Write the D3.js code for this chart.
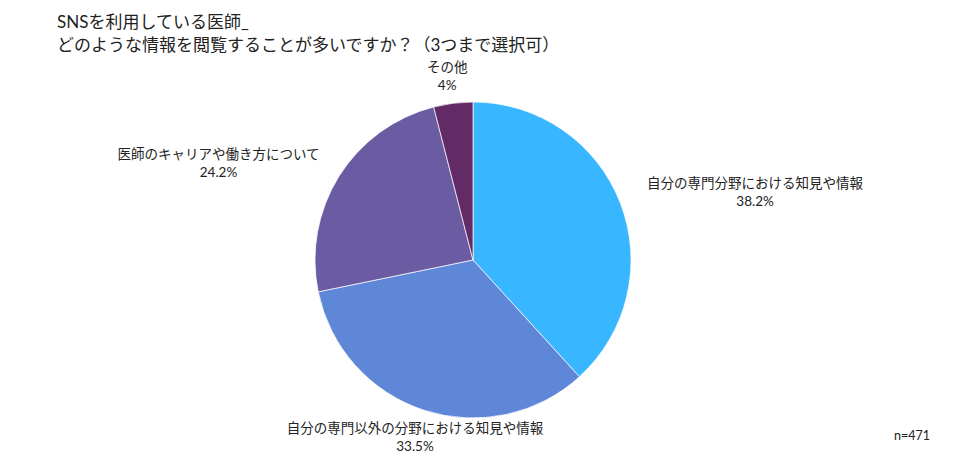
<!DOCTYPE html>
<html><head><meta charset="utf-8">
<script src="https://cdn.jsdelivr.net/npm/d3@7"></script>
<style>body{margin:0;background:#fff;} svg{display:block;font-family:Lato,"Noto Sans CJK JP","Noto Sans",sans-serif;}</style>
</head><body>
<svg id="c" width="976" height="459"></svg>
<script>
const categories = ["自分の専門分野における知見や情報","自分の専門以外の分野における知見や情報","医師のキャリアや働き方について","その他"];
const values = [38.2, 33.5, 24.2, 4];
const valueLabels = ["38.2%","33.5%","24.2%","4%"];
const colors = ["#38B6FF","#5E87D8","#6A5BA3","#632B66"];
const titleLines = ["SNSを利用している医師_","どのような情報を閲覧することが多いですか？（3つまで選択可）"];
const note = "n=471";

const svg = d3.select("#c");
const cx = 473, cy = 260, r = 158;

svg.append("g").selectAll("text").data(titleLines).join("text")
  .attr("x", 57).attr("y", (d,i)=>28+i*23).attr("font-size",17).attr("fill","#222").text(d=>d);

const pie = d3.pie().sort(null).value(d=>d)(values);
const arc = d3.arc().innerRadius(0).outerRadius(r);
const g = svg.append("g").attr("transform",`translate(${cx},${cy})`);
g.selectAll("path").data(pie).join("path")
  .attr("d",arc).attr("fill",(d,i)=>colors[i]).attr("stroke","#fff").attr("stroke-width",0.7);

const R = r*1.1;
pie.forEach((d,i)=>{
  const a = (d.startAngle+d.endAngle)/2;
  const s = Math.sin(a), c = Math.cos(a);
  const px = R*s, py = -R*c;
  const lg = g.append("g");
  lg.append("text").attr("text-anchor","middle").attr("font-size",13.5).attr("fill","#222").attr("y",0).text(categories[i]);
  lg.append("text").attr("text-anchor","middle").attr("font-size",13.5).attr("fill","#222").attr("y",18).text(valueLabels[i]);
  const bb = lg.node().getBBox();
  let ox, oy;
  if (Math.abs(s) > 0.6) {
    ox = px + (s>0 ? 12 + bb.width/2 : -6 - bb.width/2);
    oy = py - 5;
  } else {
    ox = px - 4;
    oy = py + (-c)*(bb.height/2 - 5);
  }
  const bcx = bb.x + bb.width/2, bcy = bb.y + bb.height/2;
  lg.attr("transform",`translate(${ox-bcx},${oy-bcy})`);
});

svg.append("text").attr("x",930).attr("y",440).attr("text-anchor","end").attr("font-size",12.5).attr("fill","#222").text(note);
</script>
</body></html>
